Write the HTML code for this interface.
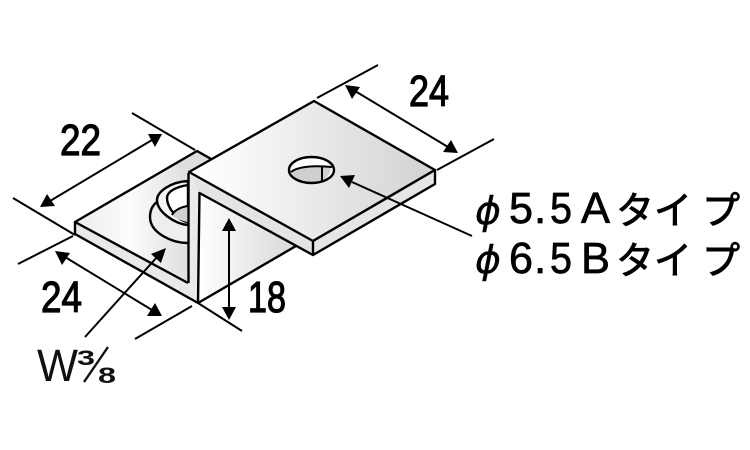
<!DOCTYPE html>
<html lang="ja">
<head>
<meta charset="utf-8">
<title>Bracket diagram</title>
<style>
html,body{margin:0;padding:0;background:#fff;width:750px;height:450px;overflow:hidden}
svg{display:block}
.d{font-family:"Liberation Sans",sans-serif;font-size:44px;fill:#000;stroke:#000;stroke-width:1.200}
.j{font-family:"Noto Sans CJK JP",sans-serif;font-size:38px;fill:#000;stroke:#000;stroke-width:.9}
.l{font-family:"Liberation Sans",sans-serif;font-size:44px;fill:#000;stroke:#000;stroke-width:.7}
.w{font-family:"Liberation Sans",sans-serif;fill:#111}
.p{font-family:"DejaVu Sans",sans-serif;font-style:italic;font-size:38px;fill:#000;stroke:#000;stroke-width:.4}
</style>
</head>
<body>
<svg width="750" height="450" viewBox="0 0 750 450" xmlns="http://www.w3.org/2000/svg">
<defs>
<linearGradient id="g1" x1="0" x2="1" y1="0" y2="0"><stop offset="0" stop-color="#fff"/><stop offset=".2" stop-color="#f8f8f8"/><stop offset="1" stop-color="#d2d2d2"/></linearGradient>
<linearGradient id="g2" x1="0" x2="1" y1="0" y2="0"><stop offset="0" stop-color="#ececec"/><stop offset=".4" stop-color="#fcfcfc"/><stop offset="1" stop-color="#d2d2d2"/></linearGradient>
<linearGradient id="g3" x1="0" x2="1" y1="0" y2="0"><stop offset="0" stop-color="#fff"/><stop offset="1" stop-color="#d2d2d2"/></linearGradient>
</defs>

<!-- lower flange top face -->
<polygon points="75,222 197,151 213,160 190,173 188,283" fill="url(#g2)"/>
<polygon points="197,151 213,160 190,173 172,165" fill="#dedede"/>
<!-- lower flange edge band -->
<polygon points="75,222 188,283 198,303 75,234" fill="#e8e8e8"/>
<g fill="none" stroke="#000" stroke-width="2.400" stroke-linejoin="round">
<path d="M75,234 L75,222 L197,151 L213,160"/>
<path d="M75,222 L188,283"/>
<path d="M75,234 L198,303"/>
</g>

<!-- nut -->
<g stroke="#000" stroke-width="2.400" fill="none">
<path d="M188,243 C172,243 150,233 150,217 C150,210 153,205 158,202 L188,190 L188,243Z" fill="#eeeeee" stroke="none"/>
<path d="M188,243 C172,243 150,233 150,217 C150,210 153,205 157,202"/>
<path d="M188,181 C170,182 157,192 157,200 C157,212 175,224 188,225 L188,181Z" fill="#f4f4f4"/>
<path d="M188,185 C175,187 167,192 167,198 C167,208 178,221 188,222 Z" fill="#fff"/>
<path d="M188,206 C180,207 174,211 172,215 C176,219 182,221 188,222Z" fill="#d0d0d0" stroke="none"/>
<path d="M188,206 C180,207 174,211 172,215" stroke-width="2"/>
</g>

<!-- web back face -->
<polygon points="199,193 198,303 296,246 312,240" fill="url(#g3)"/>
<path d="M198,303 L296,246" fill="none" stroke="#000" stroke-width="2.400"/>
<!-- web end face + underside band -->
<polygon points="188,173 199,193 198,303 188,283" fill="#eaeaea"/>
<polygon points="188,173 313,241 313,255 199,193" fill="#e4e4e4"/>
<g fill="none" stroke="#000" stroke-width="2.400" stroke-linejoin="round">
<path d="M188.500,173 L188.500,283"/>
<path d="M198,303 L199.500,193 L313,255"/>
</g>

<!-- top plate -->
<polygon points="189,172 314,101 435,170 313,241" fill="url(#g1)" stroke="#000" stroke-width="2.400" stroke-linejoin="round"/>
<polygon points="313,241 435,170 435,184 313,255" fill="#e6e6e6" stroke="#000" stroke-width="2.400" stroke-linejoin="round"/>

<!-- hole -->
<ellipse cx="311.500" cy="170" rx="22.500" ry="13" fill="#fff"/>
<path d="M291,172 C297,167 310,165 330,166 C333,173 326,182 311,182.500 C300,182.500 293,178 291,172Z" fill="#cfcfcf"/>
<path d="M291,172 C297,167 312,165 332,167 M322,166 L322,181" fill="none" stroke="#000" stroke-width="2"/>
<ellipse cx="311.500" cy="170" rx="22.500" ry="13" fill="none" stroke="#000" stroke-width="2.400"/>

<!-- dimension lines -->
<g stroke="#000" stroke-width="2" fill="none">
<line x1="132" y1="113" x2="195" y2="150"/>
<line x1="13" y1="198" x2="75" y2="235"/>
<line x1="18" y1="264" x2="73" y2="236"/>
<line x1="135" y1="339" x2="192" y2="306"/>
<line x1="198" y1="303" x2="242" y2="331"/>
<line x1="317" y1="98" x2="378" y2="65"/>
<line x1="437" y1="170" x2="494" y2="139"/>
<line x1="152" y1="140" x2="50" y2="201"/>
<line x1="65" y1="257" x2="152" y2="310"/>
<line x1="85" y1="337" x2="158" y2="256"/>
<line x1="229" y1="230" x2="229" y2="308"/>
<line x1="355" y1="91" x2="448" y2="147"/>
<line x1="472" y1="236" x2="352" y2="182"/>
</g>
<g fill="#000">
<polygon points="162,134 148,134 155,147"/>
<polygon points="40,207 47,194 55,206"/>
<polygon points="55,251 70,253 62,265"/>
<polygon points="162,316 147,316 155,303"/>
<polygon points="166,248 161,263 151,254"/>
<polygon points="229,218 236,231 222,231"/>
<polygon points="229,320 222,307 236,307"/>
<polygon points="345,85 360,87 352,99"/>
<polygon points="458,153 443,152 451,140"/>
<polygon points="340,176 355,175 349,188"/>
</g>

<!-- labels -->
<text class="d" x="60" y="155" textLength="41" lengthAdjust="spacingAndGlyphs">22</text>
<text class="d" x="41" y="312" textLength="41" lengthAdjust="spacingAndGlyphs">24</text>
<text class="d" x="409" y="106" textLength="40" lengthAdjust="spacingAndGlyphs">24</text>
<text class="d" x="248" y="312" textLength="38" lengthAdjust="spacingAndGlyphs">18</text>

<text class="w" x="37" y="381" font-size="45" textLength="41" lengthAdjust="spacingAndGlyphs">W</text>
<text class="w" x="77" y="365" font-size="21" font-weight="bold" textLength="18" lengthAdjust="spacingAndGlyphs">3</text>
<text class="w" x="98" y="383" font-size="22" font-weight="bold" textLength="18" lengthAdjust="spacingAndGlyphs">8</text>
<line x1="84" y1="382" x2="108" y2="347" stroke="#111" stroke-width="2.400"/>

<text class="p" x="475" y="224" textLength="26" lengthAdjust="spacingAndGlyphs">ϕ</text>
<text class="p" x="475" y="273" textLength="26" lengthAdjust="spacingAndGlyphs">ϕ</text>
<text class="l" x="509" y="223" textLength="24" lengthAdjust="spacingAndGlyphs">5</text>
<text class="l" x="534" y="223">.</text>
<text class="l" x="550" y="223" textLength="22" lengthAdjust="spacingAndGlyphs">5</text>
<text class="l" x="581" y="223" textLength="29" lengthAdjust="spacingAndGlyphs">A</text>
<text class="l" x="509" y="273" textLength="24" lengthAdjust="spacingAndGlyphs">6</text>
<text class="l" x="534" y="273">.</text>
<text class="l" x="550" y="273" textLength="22" lengthAdjust="spacingAndGlyphs">5</text>
<text class="l" x="581" y="273" textLength="29" lengthAdjust="spacingAndGlyphs">B</text>
<text class="j" x="616" y="224">タ</text>
<text class="j" x="654" y="224">イ</text>
<text class="j" x="702" y="224">プ</text>
<text class="j" x="616" y="274">タ</text>
<text class="j" x="654" y="274">イ</text>
<text class="j" x="702" y="274">プ</text>
</svg>
</body>
</html>
